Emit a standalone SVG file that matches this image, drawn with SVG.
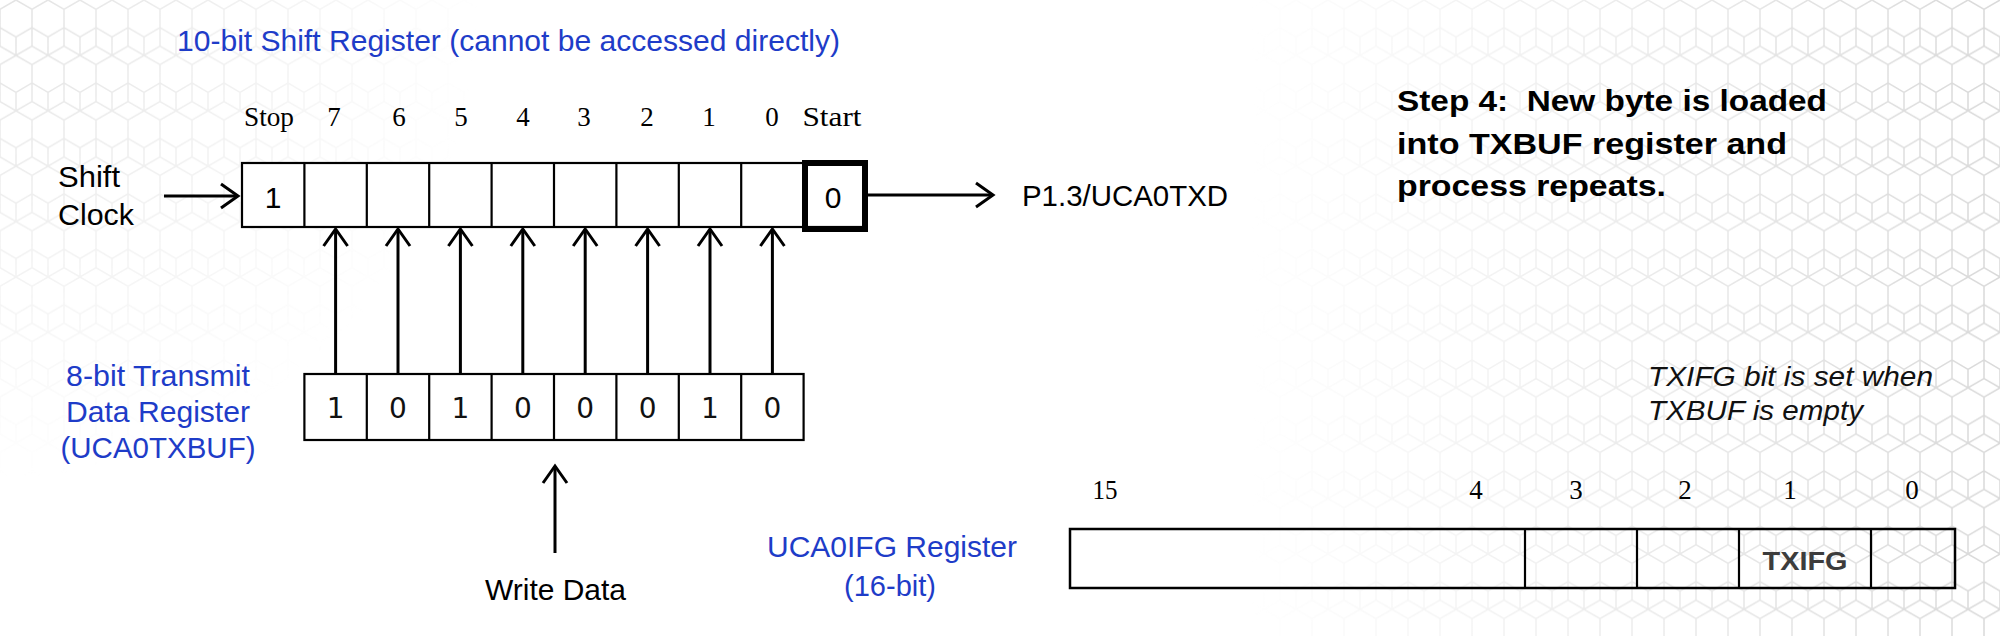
<svg xmlns="http://www.w3.org/2000/svg" width="2000" height="636" viewBox="0 0 2000 636">
  <style>
    .serif { font-family: "Liberation Serif", "Times New Roman", serif; font-size: 27px; fill: #000; }
    .blue { font-family: "Liberation Sans", Arial, sans-serif; font-size: 30px; fill: #1e3cc8; }
    .black { font-family: "Liberation Sans", Arial, sans-serif; font-size: 30px; fill: #000; }
    .bold { font-family: "Liberation Sans", Arial, sans-serif; font-size: 30px; font-weight: bold; fill: #000; }
    .ital { font-family: "Liberation Sans", Arial, sans-serif; font-size: 27px; font-style: italic; fill: #111; }
    .bit { font-family: "DejaVu Sans", Verdana, sans-serif; font-size: 28px; fill: #111; }
    .box { fill: #fff; stroke: #000; stroke-width: 2.2; }
    .div { stroke: #000; stroke-width: 2.2; }
    .conn { stroke: #000; stroke-width: 3; fill: none; marker-end: url(#chev); }
  </style>
  <defs>
    <marker id="chev" markerUnits="userSpaceOnUse" markerWidth="24" markerHeight="28" refX="17" refY="12" orient="auto" overflow="visible">
      <path d="M0,0 L17,12 L0,24" fill="none" stroke="#000" stroke-width="3" stroke-linejoin="miter"/>
    </marker>
    <pattern id="hex" width="32" height="55.4" patternUnits="userSpaceOnUse">
      <path d="M16,0 L32,9.2 L32,27.7 L16,36.9 L0,27.7 L0,9.2 Z M16,36.9 L16,55.4 M0,27.7 L0,46.2 M32,27.7 L32,46.2 M0,46.2 L16,55.4 L32,46.2" fill="none" stroke="#cfcfcf" stroke-width="1.5"/>
    </pattern>
    <linearGradient id="fadeR" x1="1250" y1="0" x2="2000" y2="0" gradientUnits="userSpaceOnUse">
      <stop offset="0" stop-color="#fff" stop-opacity="0"/>
      <stop offset="1" stop-color="#fff" stop-opacity="0.8"/>
    </linearGradient>
    <radialGradient id="fadeL" cx="0" cy="0" r="480" gradientUnits="userSpaceOnUse">
      <stop offset="0" stop-color="#fff" stop-opacity="0.6"/>
      <stop offset="1" stop-color="#fff" stop-opacity="0"/>
    </radialGradient>
    <mask id="bgmask">
      <rect width="2000" height="636" fill="url(#fadeR)"/>
      <rect width="2000" height="636" fill="url(#fadeL)"/>
    </mask>
  </defs>

  <rect width="2000" height="636" fill="#fff"/>
  <g id="background">
    <rect width="2000" height="636" fill="url(#hex)" mask="url(#bgmask)"/>
  </g>

  <g id="title">
    <text class="blue" x="177" y="51" textLength="663" lengthAdjust="spacingAndGlyphs">10-bit Shift Register (cannot be accessed directly)</text>
  </g>

  <g id="shift-register">
    <g class="serif" text-anchor="middle">
      <text x="269" y="126" textLength="50" lengthAdjust="spacingAndGlyphs">Stop</text>
      <text x="334" y="126">7</text>
      <text x="399" y="126">6</text>
      <text x="461" y="126">5</text>
      <text x="523" y="126">4</text>
      <text x="584" y="126">3</text>
      <text x="647" y="126">2</text>
      <text x="709" y="126">1</text>
      <text x="772" y="126">0</text>
      <text x="832" y="126" textLength="59" lengthAdjust="spacingAndGlyphs">Start</text>
    </g>
    <rect class="box" x="242" y="163" width="624" height="64"/>
    <path class="div" d="M304.4,163V227 M366.8,163V227 M429.2,163V227 M491.6,163V227 M554,163V227 M616.4,163V227 M678.8,163V227 M741.2,163V227 M803.6,163V227"/>
    <text class="black" x="273" y="208" text-anchor="middle" font-size="28">1</text>
  </g>

  <g id="start-bit">
    <rect x="805" y="163" width="60" height="66" fill="none" stroke="#000" stroke-width="6"/>
    <text class="black" x="833" y="208" text-anchor="middle" font-size="28">0</text>
  </g>

  <g id="shift-clock">
    <text class="black" x="58" y="187" font-size="29" textLength="62" lengthAdjust="spacingAndGlyphs">Shift</text>
    <text class="black" x="58" y="225" font-size="29" textLength="76" lengthAdjust="spacingAndGlyphs">Clock</text>
  </g>

  <g id="output-pin">
    <text class="black" x="1022" y="206" textLength="206" lengthAdjust="spacingAndGlyphs">P1.3/UCA0TXD</text>
  </g>

  <g id="txbuf-register">
    <g text-anchor="middle">
      <text class="blue" x="158" y="386" textLength="184" lengthAdjust="spacingAndGlyphs">8-bit Transmit</text>
      <text class="blue" x="158" y="422" textLength="184" lengthAdjust="spacingAndGlyphs">Data Register</text>
      <text class="blue" x="158" y="458" textLength="195" lengthAdjust="spacingAndGlyphs">(UCA0TXBUF)</text>
    </g>
    <rect class="box" x="304.4" y="374" width="499.2" height="66"/>
    <path class="div" d="M366.8,374V440 M429.2,374V440 M491.6,374V440 M554,374V440 M616.4,374V440 M678.8,374V440 M741.2,374V440"/>
    <g class="bit" text-anchor="middle">
      <text x="335.6" y="418">1</text>
      <text x="398" y="418">0</text>
      <text x="460.4" y="418">1</text>
      <text x="522.8" y="418">0</text>
      <text x="585.2" y="418">0</text>
      <text x="647.6" y="418">0</text>
      <text x="710" y="418">1</text>
      <text x="772.4" y="418">0</text>
    </g>
  </g>

  <g id="write-data">
    <text class="black" x="485" y="600" textLength="141" lengthAdjust="spacingAndGlyphs">Write Data</text>
  </g>

  <g id="step-note">
    <text class="bold" x="1397" y="111" textLength="430" lengthAdjust="spacingAndGlyphs">Step 4:&#160; New byte is loaded</text>
    <text class="bold" x="1397" y="154" textLength="390" lengthAdjust="spacingAndGlyphs">into TXBUF register and</text>
    <text class="bold" x="1397" y="196" textLength="269" lengthAdjust="spacingAndGlyphs">process repeats.</text>
  </g>

  <g id="txifg-note">
    <text class="ital" x="1648" y="386" textLength="285" lengthAdjust="spacingAndGlyphs">TXIFG bit is set when</text>
    <text class="ital" x="1648" y="420" textLength="215" lengthAdjust="spacingAndGlyphs">TXBUF is empty</text>
  </g>

  <g id="ifg-register">
    <g text-anchor="middle">
      <text class="blue" x="892" y="557" font-size="29" textLength="250" lengthAdjust="spacingAndGlyphs">UCA0IFG Register</text>
      <text class="blue" x="890" y="596" font-size="29" textLength="92" lengthAdjust="spacingAndGlyphs">(16-bit)</text>
    </g>
    <g class="serif" text-anchor="middle">
      <text x="1105" y="499" textLength="25" lengthAdjust="spacingAndGlyphs">15</text>
      <text x="1476" y="499">4</text>
      <text x="1576" y="499">3</text>
      <text x="1685" y="499">2</text>
      <text x="1790" y="499">1</text>
      <text x="1912" y="499">0</text>
    </g>
    <rect x="1070" y="529" width="885" height="59" fill="none" stroke="#000" stroke-width="2.5"/>
    <path d="M1525,529V588 M1637,529V588 M1739,529V588 M1871,529V588" stroke="#000" stroke-width="2.2"/>
    <text x="1805" y="570" text-anchor="middle" font-family="'Liberation Sans', Arial, sans-serif" font-size="26" font-weight="bold" fill="#3c3c3c" textLength="85" lengthAdjust="spacingAndGlyphs">TXIFG</text>
  </g>

  <g id="connectors">
    <line class="conn" x1="164" y1="196" x2="238" y2="196"/>
    <line class="conn" x1="868" y1="195" x2="993" y2="195"/>
    <line class="conn" x1="335.6" y1="374" x2="335.6" y2="229"/>
    <line class="conn" x1="398" y1="374" x2="398" y2="229"/>
    <line class="conn" x1="460.4" y1="374" x2="460.4" y2="229"/>
    <line class="conn" x1="522.8" y1="374" x2="522.8" y2="229"/>
    <line class="conn" x1="585.2" y1="374" x2="585.2" y2="229"/>
    <line class="conn" x1="647.6" y1="374" x2="647.6" y2="229"/>
    <line class="conn" x1="710" y1="374" x2="710" y2="229"/>
    <line class="conn" x1="772.4" y1="374" x2="772.4" y2="229"/>
    <line class="conn" x1="555" y1="553" x2="555" y2="466"/>
  </g>
</svg>
